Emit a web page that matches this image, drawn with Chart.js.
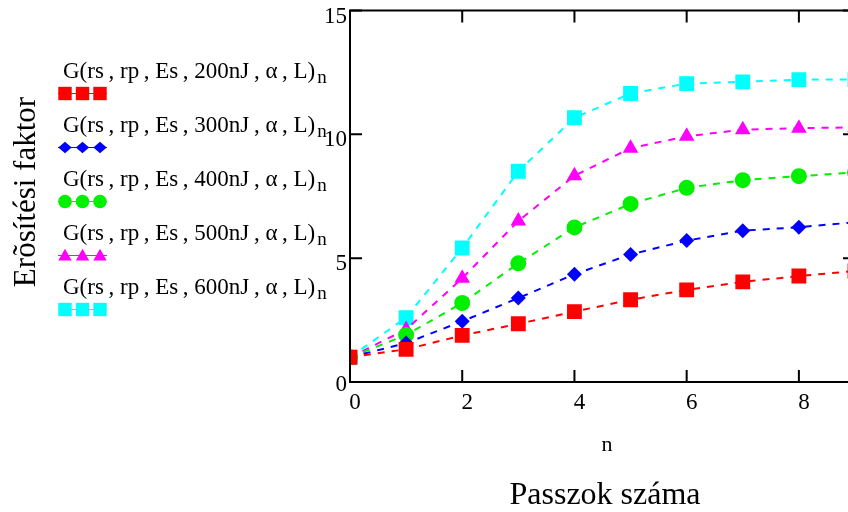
<!DOCTYPE html>
<html>
<head>
<meta charset="utf-8">
<script src="https://cdn.jsdelivr.net/npm/chart.js@4/dist/chart.umd.min.js"></script>
<style>
  html, body { margin: 0; padding: 0; background: #fff; overflow: hidden; }
  #wrap { position: relative; width: 870px; height: 512px; }
</style>
</head>
<body>
<div id="wrap"><canvas id="c" width="870" height="512"></canvas></div>
<script>
// Number of passes
const passes = [0, 1, 2, 3, 4, 5, 6, 7, 8, 9];

// Gain factor for each pulse energy
const gain200 = [1.0, 1.32, 1.88, 2.35, 2.84, 3.32, 3.72, 4.04, 4.28, 4.48];
const gain300 = [1.0, 1.57, 2.45, 3.39, 4.35, 5.15, 5.71, 6.11, 6.25, 6.45];
const gain400 = [1.0, 1.90, 3.19, 4.79, 6.24, 7.19, 7.84, 8.15, 8.31, 8.46];
const gain500 = [1.0, 2.12, 4.19, 6.50, 8.33, 9.44, 9.92, 10.19, 10.25, 10.28];
const gain600 = [1.0, 2.60, 5.41, 8.51, 10.67, 11.65, 12.05, 12.12, 12.21, 12.21];

const energies = ['200nJ', '300nJ', '400nJ', '500nJ', '600nJ'];
const xTicks = [0, 2, 4, 6, 8];
const yTicks = [0, 5, 10, 15];

const FONT = '"Liberation Serif", "Times New Roman", serif';
const TS = '\u2009'; // thin space before commas

const styles = [
  { color: '#ff0000', shape: 'rect', r: 10.5 },
  { color: '#0000ff', shape: 'rectRot', r: 7.5 },
  { color: '#00f000', shape: 'circle', r: 8 },
  { color: '#ff00ff', shape: 'triangle', r: 9 },
  { color: '#00ffff', shape: 'rect', r: 10.5 }
];
const series = [gain200, gain300, gain400, gain500, gain600];

const datasets = series.map((vals, i) => ({
  label: 'G(rs' + TS + ', rp' + TS + ', Es' + TS + ', ' + energies[i] + TS + ', α' + TS + ', L)',
  data: passes.map((n, k) => ({ x: n, y: vals[k] })),
  borderColor: styles[i].color,
  backgroundColor: styles[i].color,
  borderWidth: 2,
  borderDash: [7, 7],
  pointStyle: styles[i].shape,
  pointRadius: styles[i].r,
  pointHoverRadius: styles[i].r,
  pointBorderWidth: 0,
  tension: 0
}));

// small marker drawing for the legend swatches
function marker(ctx, shape, x, y, r, color) {
  ctx.save();
  ctx.fillStyle = color;
  ctx.beginPath();
  if (shape === 'rect') {
    ctx.rect(x - r, y - r, 2 * r, 2 * r);
  } else if (shape === 'rectRot') {
    ctx.moveTo(x - r, y); ctx.lineTo(x, y - r * 0.85);
    ctx.lineTo(x + r, y); ctx.lineTo(x, y + r * 0.85);
    ctx.closePath();
  } else if (shape === 'circle') {
    ctx.arc(x, y, r, 0, Math.PI * 2);
  } else if (shape === 'triangle') {
    ctx.moveTo(x, y - r); ctx.lineTo(x + r, y + r * 0.75);
    ctx.lineTo(x - r, y + r * 0.75); ctx.closePath();
  }
  ctx.fill();
  ctx.restore();
}

const frame = {
  id: 'frame',
  afterDraw(chart) {
    const ctx = chart.ctx;
    const xs = chart.scales.x, ys = chart.scales.y;
    const a = chart.chartArea;
    ctx.save();
    ctx.strokeStyle = '#000';
    ctx.lineWidth = 2;
    ctx.beginPath();
    ctx.rect(a.left, a.top, a.right - a.left, a.bottom - a.top);
    ctx.stroke();

    // inward ticks
    ctx.beginPath();
    xTicks.forEach(v => {
      const px = xs.getPixelForValue(v);
      ctx.moveTo(px, a.bottom); ctx.lineTo(px, a.bottom - 12);
      ctx.moveTo(px, a.top); ctx.lineTo(px, a.top + 12);
    });
    yTicks.forEach(v => {
      const py = ys.getPixelForValue(v);
      ctx.moveTo(a.left, py); ctx.lineTo(a.left + 12, py);
      ctx.moveTo(a.right, py); ctx.lineTo(a.right - 12, py);
    });
    ctx.stroke();

    // tick labels
    ctx.fillStyle = '#000';
    ctx.font = '23px ' + FONT;
    ctx.textBaseline = 'middle';
    ctx.textAlign = 'right';
    yTicks.forEach(v => {
      const py = Math.min(ys.getPixelForValue(v) + 6, a.bottom + 3);
      ctx.fillText(String(v), a.left - 3, py);
    });
    ctx.textAlign = 'center';
    xTicks.forEach(v => {
      ctx.fillText(String(v), xs.getPixelForValue(v) + 5, 403);
    });

    // axis titles
    ctx.textBaseline = 'alphabetic';
    ctx.font = '22px ' + FONT;
    ctx.fillText('n', 607, 451);
    ctx.font = '32px ' + FONT;
    ctx.fillText('Passzok száma', 605, 504);
    ctx.save();
    ctx.translate(35, 192);
    ctx.rotate(-Math.PI / 2);
    ctx.textAlign = 'center';
    ctx.font = '31px ' + FONT;
    ctx.fillText('Erõsítési faktor', 0, 0);
    ctx.restore();

    // legend
    ctx.textAlign = 'left';
    chart.data.datasets.forEach((ds, i) => {
      const my = 93.5 + i * 54;
      const by = my - 16;
      ctx.font = '23px ' + FONT;
      ctx.fillStyle = '#000';
      ctx.fillText(ds.label, 63, by);
      const w = ctx.measureText(ds.label).width;
      ctx.font = '19px ' + FONT;
      ctx.fillText('n', 63 + w + 2, by + 5);
      // swatch
      ctx.strokeStyle = styles[i].color;
      ctx.lineWidth = 1;
      ctx.beginPath();
      ctx.moveTo(58, my); ctx.lineTo(107, my);
      ctx.stroke();
      [65, 82.5, 100].forEach(cx => {
        const s = styles[i].shape;
        const rr = s === 'circle' ? 6.8 : 6.7;
        marker(ctx, s, cx, my, rr, styles[i].color);
      });
    });
    ctx.restore();
  }
};

new Chart(document.getElementById('c'), {
  type: 'line',
  data: { datasets },
  options: {
    responsive: false,
    animation: false,
    events: [],
    layout: { padding: { left: 350, right: 15, top: 7, bottom: 130 } },
    scales: {
      x: { type: 'linear', min: 0, max: 9, display: false },
      y: { type: 'linear', min: 0, max: 15, display: false }
    },
    plugins: { legend: { display: false }, tooltip: { enabled: false } }
  },
  plugins: [frame]
});
</script>
</body>
</html>
